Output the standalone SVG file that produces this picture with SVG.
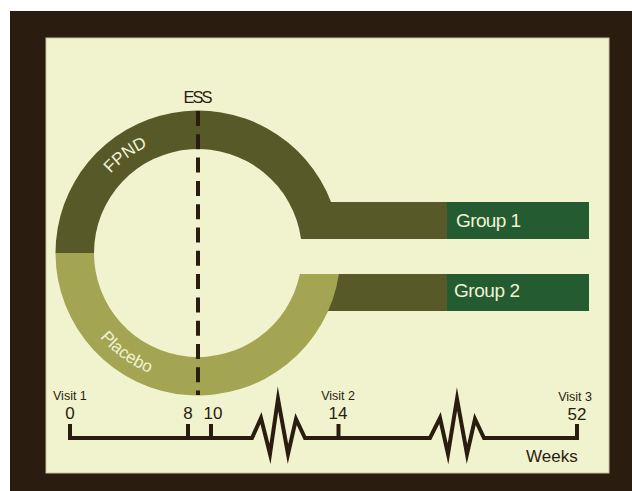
<svg xmlns="http://www.w3.org/2000/svg" width="632" height="491" viewBox="0 0 632 491">
<style>
.dark{fill:#575a28}
.light{fill:#a3a552}
.green{fill:#245b30}
.lbl{font-family:"Liberation Sans",Arial,sans-serif;fill:#2a1c0f}
.wlbl{font-family:"Liberation Sans",Arial,sans-serif;fill:#f1f3d6}
.ln{fill:none;stroke:#2a1c0f;stroke-width:4;stroke-linejoin:miter;stroke-miterlimit:12;stroke-linecap:butt}
</style>
<defs>
<path id="arcTop" d="M83.26,225.46 A118,118 0 0 1 205.2,135.2"/>
<path id="arcBot" d="M72.5,285 A129.5,129.5 0 0 0 207.7,382.1"/>
</defs>
<rect x="0" y="0" width="632" height="491" fill="#ffffff"/>
<rect x="10" y="11" width="622" height="480" fill="#2a1c0f"/>
<rect x="46" y="38" width="563" height="435" fill="#f1f3cf" stroke="#c4c2a2" stroke-width="1"/>

<g id="group1">
<rect class="dark" x="320" y="202" width="127" height="37"/>
<rect class="green" x="447" y="202" width="142" height="37"/>
<text class="wlbl" x="456" y="227" font-size="19" textLength="65">Group 1</text>
</g>
<g id="group2">
<rect class="dark" x="320" y="274" width="127" height="37"/>
<rect class="green" x="447" y="274" width="142" height="37"/>
<text class="wlbl" x="454" y="297" font-size="19" textLength="66">Group 2</text>
</g>

<g id="fpnd">
<path class="dark" d="M55.5,253 A142.5,142.5 0 0 1 331.06,202 L340,202 L340,239 L301.05,239 A104,104 0 0 0 94,253 Z"/>
<text class="wlbl" font-size="17"><textPath href="#arcTop" startOffset="50%" text-anchor="middle">FPND</textPath></text>
</g>
<g id="placebo">
<path class="light" d="M55.5,253 A142.5,142.5 0 0 0 338.94,274 L299.86,274 A104,104 0 0 1 94,253 Z"/>
<text class="wlbl" font-size="17"><textPath href="#arcBot" startOffset="50%" text-anchor="middle">Placebo</textPath></text>
</g>

<g id="ess">
<text class="lbl" x="198" y="103" font-size="16.5" text-anchor="middle" textLength="29">ESS</text>
<line x1="198" y1="111" x2="198" y2="395" stroke="#2a1c0f" stroke-width="4" stroke-dasharray="15 8.3"/>
</g>

<g id="timeline">
<path class="ln" d="M70,424 V438 H252 L261,418 L270,454 L278,399 L288,454 L296,419 L305,438 H430 L440,418 L448,454 L457,399 L467,454 L475,419 L484,438 H577 V424"/>
<path class="ln" d="M188,424 V438 M211,424 V438 M338.5,424 V438"/>
<text class="lbl" x="53" y="400" font-size="12.5">Visit 1</text>
<text class="lbl" x="355" y="400" font-size="12.5" text-anchor="end">Visit 2</text>
<text class="lbl" x="592" y="401" font-size="12.5" text-anchor="end">Visit 3</text>
<text class="lbl" x="70" y="419" font-size="17" text-anchor="middle">0</text>
<text class="lbl" x="188" y="419" font-size="17" text-anchor="middle">8</text>
<text class="lbl" x="213" y="419" font-size="17" text-anchor="middle">10</text>
<text class="lbl" x="338" y="419" font-size="17" text-anchor="middle">14</text>
<text class="lbl" x="577" y="420" font-size="17" text-anchor="middle">52</text>
<text class="lbl" x="526" y="462" font-size="17">Weeks</text>
</g>
</svg>
